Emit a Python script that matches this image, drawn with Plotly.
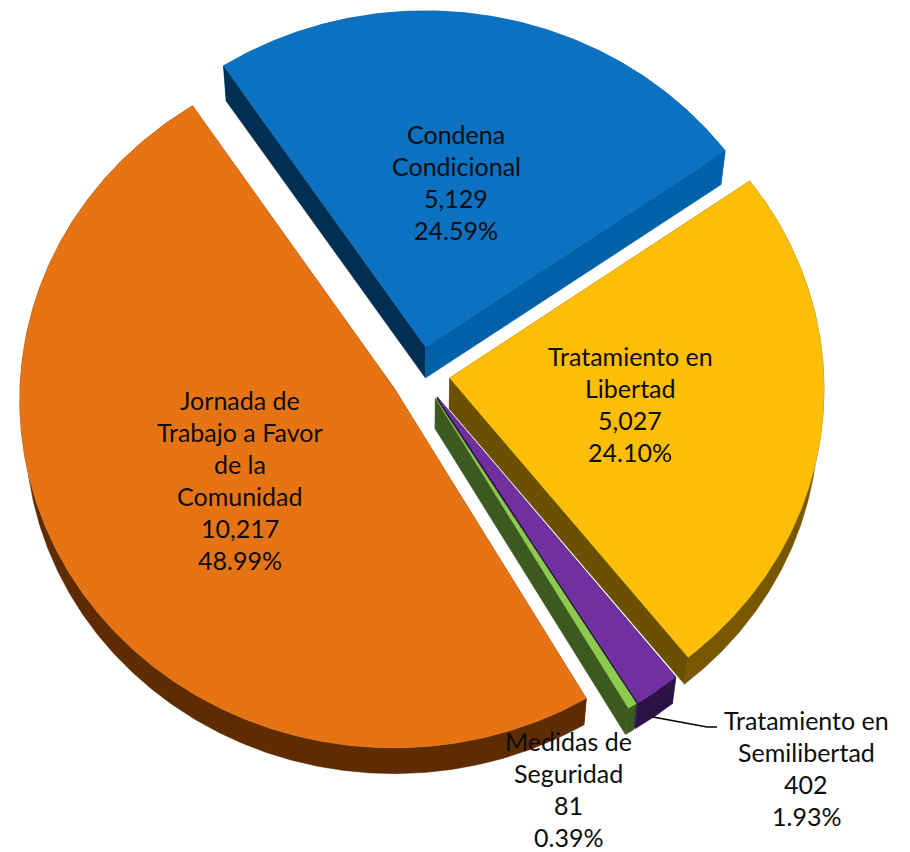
import numpy as np
import plotly.graph_objects as go

# Slices run clockwise from the blue one, same order as the source chart
labels = [
    ["Condena", "Condicional"],
    ["Tratamiento en", "Libertad"],
    ["Tratamiento en", "Semilibertad"],
    ["Medidas de", "Seguridad"],
    ["Jornada de", "Trabajo a Favor", "de la", "Comunidad"],
]
values = [5129, 5027, 402, 81, 10217]

top_colors = ["#0B71C0", "#FDBE07", "#7030A0", "#8CCB4E", "#E77414"]
rim_colors = ["#0060A8", "#775800", "#2D1248", "#3C5A20", "#5E2C00"]
start_wall_colors = ["#002F52", "#6B5000", "#2D1248", "#3C5A20", "#5E2C00"]
end_wall_colors = ["#0060A8", "#6B5000", "#2D1248", "#3C5A20", "#5E2C00"]

# label anchor: centre x, y of the first line (pixels)
label_x = [456, 630, 806, 568, 240]
label_y = [134, 356, 720, 741, 400]
line_step = 32

# pie projection
cx, cy = 420, 374
radius = 374
squash = 0.93
persp = 0.03
explode = 30
first_angle = -33.7
depth = 31
floor_scale = 0.986

# drawing order, back to front
draw_order = [0, 4, 1, 2, 3]

# the page body has an 8px margin, so the plot starts at 8,8
page_margin = 8

total = sum(values)
shares = [v / total for v in values]
ends = first_angle + 360 * np.cumsum(shares)
starts = ends - 360 * np.array(shares)


def project(u, v):
    s = 1 - persp * v / radius
    return cx + u * s, cy - squash * v * s


def floor(x, y):
    return cx + (x - cx) * floor_scale, cy + (y - cy) * floor_scale + depth


def polygon(fig, x, y, color):
    fig.add_trace(go.Scatter(
        x=list(x), y=list(y), mode="lines", fill="toself", fillcolor=color,
        line=dict(color=color, width=0.5), hoverinfo="skip", showlegend=False,
    ))


fig = go.Figure()

for i in draw_order:
    mid = np.radians((starts[i] + ends[i]) / 2)
    ex, ey = explode * np.sin(mid), explode * np.cos(mid)
    ang = np.radians(np.linspace(starts[i], ends[i], max(int(ends[i] - starts[i]) * 2, 8)))
    arc_x, arc_y = project(ex + radius * np.sin(ang), ey + radius * np.cos(ang))
    apex_x, apex_y = project(ex, ey)
    arc_fx, arc_fy = floor(arc_x, arc_y)
    apex_fx, apex_fy = floor(apex_x, apex_y)

    # rim and walls first, the top covers whatever should be hidden
    polygon(fig, np.r_[arc_x, arc_fx[::-1], arc_x[0]],
            np.r_[arc_y, arc_fy[::-1], arc_y[0]], rim_colors[i])
    polygon(fig, [apex_x, arc_x[0], arc_fx[0], apex_fx, apex_x],
            [apex_y, arc_y[0], arc_fy[0], apex_fy, apex_y], start_wall_colors[i])
    polygon(fig, [apex_x, arc_x[-1], arc_fx[-1], apex_fx, apex_x],
            [apex_y, arc_y[-1], arc_fy[-1], apex_fy, apex_y], end_wall_colors[i])
    polygon(fig, np.r_[apex_x, arc_x, apex_x], np.r_[apex_y, arc_y, apex_y], top_colors[i])

# leader line for Tratamiento en Semilibertad
fig.add_trace(go.Scatter(
    x=[653, 707, 717], y=[717, 727, 727], mode="lines",
    line=dict(color="black", width=1.5), hoverinfo="skip", showlegend=False,
))

# one annotation per line, plotly's <br> spacing is too tight here
for i, name in enumerate(labels):
    lines = name + [f"{values[i]:,}", f"{shares[i] * 100:.2f}%"]
    for j, txt in enumerate(lines):
        fig.add_annotation(
            x=label_x[i], y=label_y[i] + j * line_step, text=txt, showarrow=False,
            xanchor="center", yanchor="middle",
            font=dict(family="Lato", size=25, color="#0D0D0D"),
        )

fig.update_layout(
    width=910 - page_margin, height=852 - page_margin,
    margin=dict(l=0, r=0, t=0, b=0),
    paper_bgcolor="white", plot_bgcolor="white",
    xaxis=dict(range=[page_margin, 910], visible=False, fixedrange=True),
    yaxis=dict(range=[852, page_margin], visible=False, fixedrange=True),
)
fig.write_html("out.html")
